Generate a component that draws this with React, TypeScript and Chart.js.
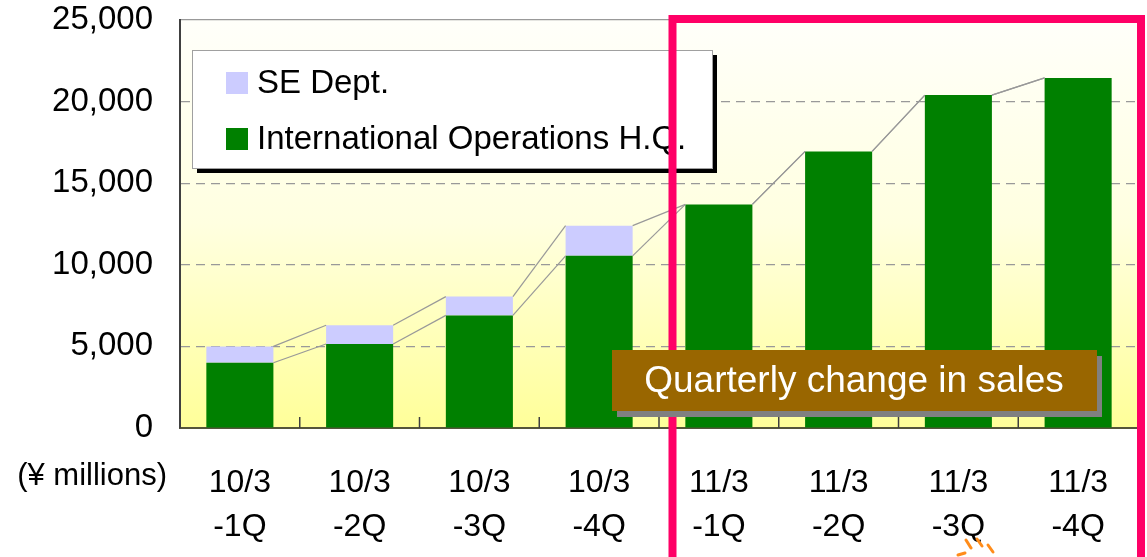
import React, { useEffect, useRef } from "react";
import { Chart, registerables } from "chart.js";

Chart.register(...registerables);

const FONT = "'Liberation Sans', Arial, Helvetica, sans-serif";

const categories: string[][] = [
  ["10/3", "-1Q"],
  ["10/3", "-2Q"],
  ["10/3", "-3Q"],
  ["10/3", "-4Q"],
  ["11/3", "-1Q"],
  ["11/3", "-2Q"],
  ["11/3", "-3Q"],
  ["11/3", "-4Q"],
];
const intlOps = [4000, 5150, 6900, 10550, 13700, 16950, 20400, 21450];
const seDept = [1000, 1150, 1150, 1850, 0, 0, 0, 0];
const seriesNames = ["International Operations H.Q.", "SE Dept."];
const seriesColors = ["#008000", "#CCCCFF"];
const legendOrder = [1, 0];
const yMax = 25000;
const yStep = 5000;
const unitLabel = "(¥ millions)";
const annotationText = "Quarterly change in sales";

const decor = {
  id: "decor",
  beforeDraw(chart: any) {
    const { ctx, chartArea: a } = chart;
    const g = ctx.createLinearGradient(0, a.top, 0, a.bottom);
    g.addColorStop(0, "#FFFFFA");
    g.addColorStop(0.5, "#FFFFE0");
    g.addColorStop(1, "#FFFF99");
    ctx.save();
    ctx.fillStyle = g;
    ctx.fillRect(a.left, a.top, a.right - a.left, a.bottom - a.top);
    ctx.restore();
  },
  afterDatasetsDraw(chart: any) {
    const ctx = chart.ctx;
    const a = chart.chartArea;
    ctx.save();
    ctx.strokeStyle = "#999999";
    ctx.lineWidth = 1.2;
    chart.data.datasets.forEach((_ds: any, di: number) => {
      const meta = chart.getDatasetMeta(di);
      for (let i = 0; i < meta.data.length - 1; i++) {
        const b0: any = meta.data[i];
        const b1: any = meta.data[i + 1];
        ctx.beginPath();
        ctx.moveTo(b0.x + b0.width / 2, b0.y);
        ctx.lineTo(b1.x - b1.width / 2, b1.y);
        ctx.stroke();
      }
    });
    const xs = chart.scales.x;
    ctx.strokeStyle = "#404040";
    ctx.lineWidth = 1.5;
    for (let i = 1; i < categories.length; i++) {
      const px = (xs.getPixelForValue(i - 1) + xs.getPixelForValue(i)) / 2;
      ctx.beginPath();
      ctx.moveTo(px, a.bottom);
      ctx.lineTo(px, a.bottom - 11);
      ctx.stroke();
    }
    ctx.restore();
  },
  afterDraw(chart: any) {
    const ctx = chart.ctx;
    ctx.save();
    // unit label
    ctx.fillStyle = "#000";
    ctx.font = `31px ${FONT}`;
    ctx.textAlign = "right";
    ctx.textBaseline = "alphabetic";
    ctx.fillText(unitLabel, 167, 485);

    // legend box
    const lx = 192, ly = 50, lw = 520, lh = 118;
    ctx.fillStyle = "#000";
    ctx.fillRect(lx + 5, ly + 5, lw, lh);
    ctx.fillStyle = "#FFFFFF";
    ctx.fillRect(lx, ly, lw, lh);
    ctx.strokeStyle = "#A0A0A0";
    ctx.lineWidth = 1;
    ctx.strokeRect(lx + 0.5, ly + 0.5, lw, lh);
    ctx.font = `33px ${FONT}`;
    ctx.textAlign = "left";
    ctx.textBaseline = "middle";
    legendOrder.forEach((di, k) => {
      const cy = 83 + k * 56;
      ctx.fillStyle = seriesColors[di];
      ctx.fillRect(226, cy - 11, 22, 22);
      ctx.fillStyle = "#000";
      ctx.fillText(seriesNames[di], 257, cy + 1);
    });

    // pink highlight frame
    ctx.strokeStyle = "#FF0066";
    ctx.lineWidth = 8;
    ctx.beginPath();
    ctx.moveTo(672.5, 600);
    ctx.lineTo(672.5, 19);
    ctx.lineTo(1141, 19);
    ctx.lineTo(1141, 600);
    ctx.stroke();

    // annotation box
    ctx.fillStyle = "#808080";
    ctx.fillRect(617, 356, 485, 61);
    ctx.fillStyle = "#996600";
    ctx.fillRect(612, 350, 485, 61);
    ctx.fillStyle = "#FFFFFF";
    ctx.font = `37px ${FONT}`;
    ctx.textAlign = "center";
    ctx.textBaseline = "middle";
    ctx.fillText(annotationText, 854, 382);

    // small orange marks
    ctx.strokeStyle = "#FF8C1A";
    ctx.lineWidth = 3;
    ctx.lineCap = "round";
    const marks = [
      [966, 540, 971, 548],
      [977, 539, 982, 546],
      [988, 545, 993, 552],
      [958, 555, 965, 553],
    ];
    marks.forEach(([x1, y1, x2, y2]) => {
      ctx.beginPath();
      ctx.moveTo(x1, y1);
      ctx.lineTo(x2, y2);
      ctx.stroke();
    });
    ctx.restore();
  },
};

export default function App() {
  const ref = useRef<HTMLCanvasElement | null>(null);
  useEffect(() => {
    document.body.style.margin = "0";
    const canvas = ref.current!;
    const chart = new Chart(canvas, {
      type: "bar",
      data: {
        labels: categories,
        datasets: [
          {
            label: seriesNames[0],
            data: intlOps,
            backgroundColor: seriesColors[0],
            barPercentage: 0.56,
            categoryPercentage: 1,
          },
          {
            label: seriesNames[1],
            data: seDept,
            backgroundColor: seriesColors[1],
            barPercentage: 0.56,
            categoryPercentage: 1,
          },
        ],
      },
      options: {
        responsive: false,
        animation: false,
        devicePixelRatio: 1,
        layout: { padding: { left: 0, right: 9, top: 20, bottom: 0 } },
        plugins: { legend: { display: false }, tooltip: { enabled: false } },
        scales: {
          x: {
            stacked: true,
            grid: { display: false },
            border: { display: true, color: "#55553A", width: 2 },
            ticks: {
              color: "#000",
              font: { family: FONT, size: 32, lineHeight: 1.375 },
              padding: 25,
              autoSkip: false,
              maxRotation: 0,
            },
            afterFit: (s: any) => {
              s.height = 129;
              s.paddingLeft = 0;
              s.paddingRight = 0;
            },
          },
          y: {
            stacked: true,
            min: 0,
            max: yMax,
            ticks: {
              stepSize: yStep,
              color: "#000",
              font: { family: FONT, size: 33 },
              padding: 27,
              callback: (v: any) => Number(v).toLocaleString("en-US"),
            },
            grid: {
              drawTicks: false,
              color: (c: any) =>
                c.tick && c.tick.value === 0 ? "rgba(0,0,0,0)" : "#999999",
              lineWidth: 1.2,
            },
            border: {
              display: true,
              color: "#404040",
              width: 2,
              dash: (c: any) => (c.tick && c.tick.value === yMax ? [] : [9, 6]),
            },
            afterFit: (s: any) => {
              s.width = 180;
              s.paddingTop = 0;
              s.paddingBottom = 0;
            },
          },
        },
      },
      plugins: [decor],
    } as any);
    return () => chart.destroy();
  }, []);
  return (
    <canvas
      ref={ref}
      width={1147}
      height={557}
      style={{ display: "block", width: 1147, height: 557 }}
    />
  );
}
